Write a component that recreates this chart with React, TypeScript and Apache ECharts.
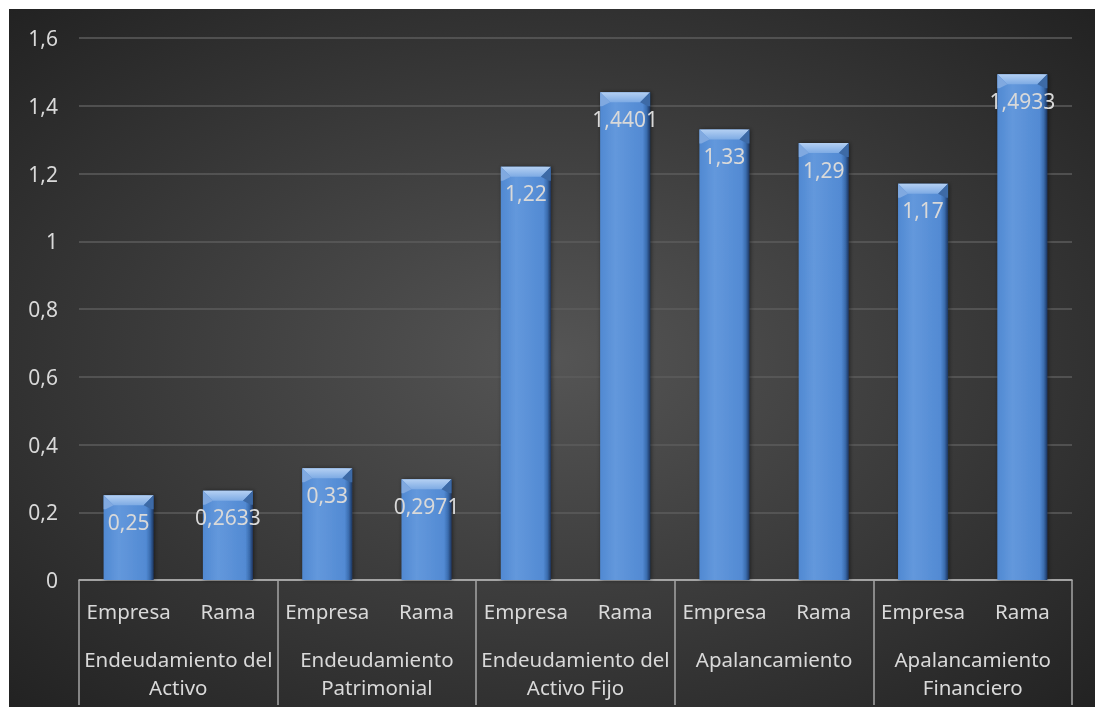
import React, { useEffect, useRef } from "react";
import * as echarts from "echarts";

const subCategories = ["Empresa", "Rama", "Empresa", "Rama", "Empresa", "Rama", "Empresa", "Rama", "Empresa", "Rama"];
const groupCategories = [
  "Endeudamiento del\nActivo",
  "Endeudamiento\nPatrimonial",
  "Endeudamiento del\nActivo Fijo",
  "Apalancamiento",
  "Apalancamiento\nFinanciero",
];
const values = [0.25, 0.2633, 0.33, 0.2971, 1.22, 1.4401, 1.33, 1.29, 1.17, 1.4933];
const valueLabels = ["0,25", "0,2633", "0,33", "0,2971", "1,22", "1,4401", "1,33", "1,29", "1,17", "1,4933"];
const yTicks = { min: 0, max: 1.6, interval: 0.2 };

const FONT = "Noto Sans";
const TEXT = "#d9d9d9";

export default function App() {
  const ref = useRef<HTMLDivElement>(null);
  useEffect(() => {
    if (!ref.current) return;
    const chart = echarts.init(ref.current, undefined, { renderer: "svg" });
    const barWidth = 50;
    chart.setOption({
      animation: false,
      backgroundColor: {
        type: "radial",
        x: 0.5,
        y: 0.5,
        r: 0.75,
        colorStops: [
          { offset: 0, color: "#555555" },
          { offset: 1, color: "#1f1f1f" },
        ],
      },
      grid: { left: 70, right: 23, top: 29, bottom: 127, containLabel: false },
      xAxis: [
        {
          type: "category",
          data: subCategories,
          position: "bottom",
          axisLine: { show: true, lineStyle: { color: "#bfbfbf", width: 1.5 } },
          axisTick: { show: false },
          axisLabel: { color: TEXT, fontFamily: FONT, fontSize: 20.5, margin: 20, interval: 0 },
        },
        {
          type: "category",
          data: groupCategories,
          position: "bottom",
          axisLine: { show: false },
          axisTick: { show: true, interval: 0, length: 125, lineStyle: { color: "#a6a6a6", width: 1.5 } },
          axisLabel: { color: TEXT, fontFamily: FONT, fontSize: 20.5, margin: 65, lineHeight: 28, interval: 0 },
        },
      ],
      yAxis: {
        type: "value",
        min: yTicks.min,
        max: yTicks.max,
        interval: yTicks.interval,
        axisLine: { show: false },
        axisTick: { show: false },
        splitLine: { lineStyle: { color: "#5c5c5c", width: 1.5 } },
        axisLabel: {
          color: TEXT,
          fontFamily: FONT,
          fontSize: 21,
          margin: 21,
          formatter: (v: number) => String(Math.round(v * 10) / 10).replace(".", ","),
        },
      },
      series: [
        {
          type: "bar",
          xAxisIndex: 0,
          data: values,
          barWidth,
          z: 2,
          itemStyle: {
            color: {
              type: "linear",
              x: 0,
              y: 0,
              x2: 1,
              y2: 0,
              colorStops: [
                { offset: 0, color: "#5089d2" },
                { offset: 0.3, color: "#6398dc" },
                { offset: 0.85, color: "#528ad3" },
                { offset: 0.93, color: "#3a6cae" },
                { offset: 1, color: "#1d3660" },
              ],
            },
            shadowColor: "rgba(0,0,0,0.5)",
            shadowBlur: 4,
            shadowOffsetX: 1,
          },
          label: {
            show: true,
            position: "insideTop",
            distance: 16,
            color: TEXT,
            fontFamily: FONT,
            fontSize: 21,
            formatter: (p: any) => valueLabels[p.dataIndex],
          },
        },
        {
          type: "custom",
          xAxisIndex: 0,
          silent: true,
          z: 3,
          data: values.map((v, i) => [i, v]),
          encode: { x: 0, y: 1 },
          renderItem: (params: any, api: any) => {
            const p = api.coord([api.value(0), api.value(1)]);
            const x = p[0];
            const y = p[1];
            const hw = barWidth / 2;
            const b = 10;
            return {
              type: "group",
              children: [
                {
                  type: "polygon",
                  shape: { points: [[x - hw, y], [x + hw, y], [x + hw - b, y + b], [x - hw + b, y + b]] },
                  style: {
                    fill: {
                      type: "linear",
                      x: 0,
                      y: 0,
                      x2: 0,
                      y2: 1,
                      colorStops: [
                        { offset: 0, color: "#b4d0f3" },
                        { offset: 1, color: "#7eabe4" },
                      ],
                    },
                  },
                },
                {
                  type: "polygon",
                  shape: { points: [[x - hw, y], [x - hw + b, y + b], [x - hw + 2, y + b + 4], [x - hw, y + b + 4]] },
                  style: { fill: "#80a9e0" },
                },
                {
                  type: "polygon",
                  shape: { points: [[x + hw, y], [x + hw - b, y + b], [x + hw - 2, y + b + 4], [x + hw, y + b + 4]] },
                  style: { fill: "#3d6aa6" },
                },
              ],
            };
          },
        },
      ],
    });
    return () => chart.dispose();
  }, []);
  return (
    <div
      ref={ref}
      style={{ position: "fixed", left: 9, top: 9, width: 1086, height: 698 }}
    />
  );
}
